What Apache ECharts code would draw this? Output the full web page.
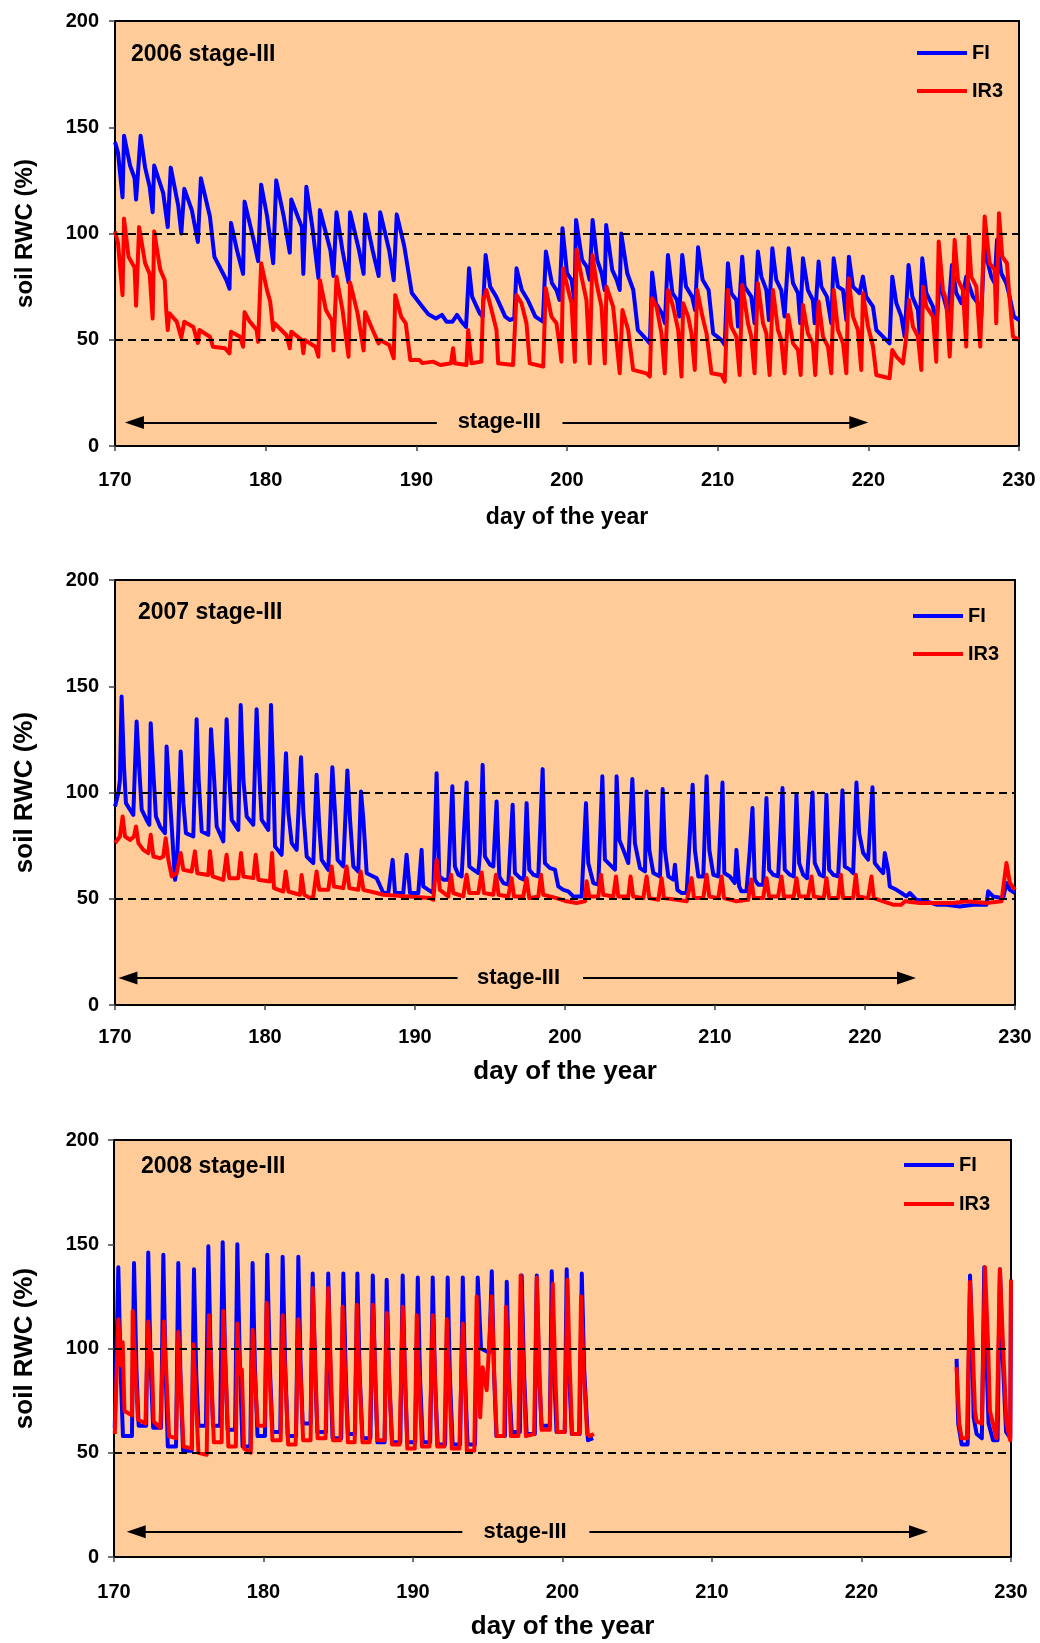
<!DOCTYPE html>
<html>
<head>
<meta charset="utf-8">
<script src="https://cdn.jsdelivr.net/npm/echarts@6/dist/echarts.min.js"></script>
<style>
  html, body { margin: 0; padding: 0; background: #fff; }
  #chart { width: 1040px; height: 1643px; }
</style>
</head>
<body>
<div id="chart"></div>
<script>
// Soil relative water content (%) by day of the year, FI vs IR3, stage-III, 2006-2008.

const years = ['2006', '2007', '2008'];
const xTicks = [170, 180, 190, 200, 210, 220, 230];
const yTicks = [0, 50, 100, 150, 200];
const refLevels = [50, 100];
// stage-III span per year: [left arrow tip, left line end, right line start, right arrow tip, label day]
const stageSpans = [
  [170.66, 191.36, 199.7, 220.0, 195.5],
  [170.23, 192.84, 201.2, 223.4, 196.9],
  [170.85, 193.3, 201.8, 224.45, 197.5]
];
const stageLevel = [11.1, 12.7, 12.1];

// ---- 2006 ----
const fi2006 = [
[170.0,143],[170.2,138],[170.5,117],[170.6,146],[171.0,132],[171.3,126],[171.4,116],[171.7,146],[172.0,131],[172.3,122],[172.5,110],[172.6,132],[173.2,119],[173.5,103],[173.7,131],[174.2,113],[174.4,100],[174.6,121],[175.1,111],[175.5,96],[175.7,126],[176.3,108],[176.6,89],[177.4,78],[177.6,74],[177.7,105],[178.1,92],[178.5,81],[178.6,115],[179.2,97],[179.5,87],[179.7,123],[180.1,108],[180.5,86],[180.7,125],[181.2,108],[181.6,91],[181.7,116],[182.4,103],[182.5,81],[182.7,122],[183.1,103],[183.5,79],[183.6,111],[184.3,92],[184.5,80],[184.7,110],[185.1,92],[185.5,77],[185.6,110],[186.2,92],[186.5,81],[186.6,109],[187.1,92],[187.5,80],[187.6,110],[188.2,92],[188.5,78],[188.7,109],[189.2,94],[189.7,72],[190.4,65.5],[190.8,62],[191.3,60],[191.7,61.7],[192.0,58.5],[192.4,58.5],[192.7,61.7],[193.0,58.5],[193.3,56],[193.5,83.6],[193.7,70.3],[194.2,62.5],[194.4,60.9],[194.6,89.9],[194.9,75],[195.3,70.3],[195.9,60.9],[196.2,59.3],[196.5,60],[196.65,83.6],[197.0,73.4],[197.4,68.7],[197.9,60.9],[198.4,58.5],[198.6,91.5],[199.0,76.6],[199.3,73.4],[199.5,68.7],[199.7,102.5],[200.0,81.3],[200.3,78.2],[200.5,68],[200.6,106.4],[201.0,87.6],[201.3,84.4],[201.5,78.2],[201.7,106.4],[202.0,87.6],[202.3,81.3],[202.5,73.4],[202.6,104],[203.0,82.9],[203.3,78.2],[203.5,73.4],[203.6,100],[204.0,81.3],[204.4,73.4],[204.7,54.6],[205.3,49.9],[205.5,48.3],[205.65,81.6],[205.9,67.2],[206.3,62.5],[206.5,57.8],[206.7,89.9],[207.0,71.9],[207.3,68.7],[207.45,60.9],[207.65,89.9],[207.9,75],[208.3,70.3],[208.5,64],[208.7,93.5],[209.0,78.2],[209.4,73.4],[209.7,53],[210.25,49.9],[210.47,47.6],[210.68,86],[210.9,71.9],[211.24,68.7],[211.35,56.2],[211.63,89.1],[211.79,75],[212.23,70.3],[212.45,57.8],[212.67,91.5],[212.9,79.7],[213.23,73.4],[213.4,59.3],[213.63,93.1],[213.89,78.2],[214.22,73.4],[214.44,60.9],[214.71,93.1],[215.0,76.6],[215.33,71.9],[215.48,57.8],[215.66,88.3],[215.99,73.4],[216.32,68.7],[216.44,57.8],[216.7,86.8],[216.88,75],[217.25,70.3],[217.54,57.8],[217.7,88.3],[217.98,75],[218.32,73.4],[218.54,59.3],[218.71,89.1],[218.98,75],[219.42,71.9],[219.64,79.7],[219.86,70.3],[220.31,65.6],[220.53,54.6],[220.97,51.5],[221.41,48.3],[221.59,79.7],[221.86,67.2],[222.19,60.9],[222.41,51.5],[222.67,85.2],[222.92,70.3],[223.29,64],[223.4,53],[223.58,88.3],[223.85,71.9],[224.29,65.6],[224.51,54.6],[224.73,78.2],[225.0,70],[225.3,62],[225.55,85.2],[225.84,71.9],[226.17,67.2],[226.5,79.7],[226.94,70.3],[227.28,67.2],[227.5,60.9],[227.72,100],[227.83,89.1],[228.16,79.7],[228.38,76.6],[228.54,97],[228.82,81.3],[229.16,76.6],[229.38,70.3],[229.66,60.9],[230.0,59.3]
];
const ir3_2006 = [
[170.0,101],[170.2,95.5],[170.5,71],[170.6,107],[170.9,89],[171.3,84],[171.4,66],[171.6,103],[172.0,86],[172.3,81],[172.5,60],[172.6,101],[173.0,83],[173.3,78],[173.4,64],[173.5,54.6],[173.6,62.5],[174.1,58.5],[174.4,51],[174.6,58.5],[175.2,56],[175.5,48.5],[175.6,54.6],[176.3,51.4],[176.5,46.7],[177.3,46],[177.6,43.6],[177.7,53.8],[178.3,51.4],[178.5,46.7],[178.6,63],[178.9,59],[179.4,54.6],[179.5,49],[179.7,86],[180.1,73],[180.3,68],[180.5,54.6],[180.6,57.7],[181.4,52],[181.6,46],[181.7,53.8],[182.4,49.9],[182.5,43.6],[182.6,49.9],[183.3,46.7],[183.5,42],[183.6,78],[184.0,64],[184.4,59],[184.5,45],[184.7,79.7],[185.1,64],[185.5,42],[185.6,77],[186.1,62.4],[186.5,45],[186.6,63],[187.1,54.6],[187.5,48.3],[187.6,49.9],[188.2,47.5],[188.5,41.3],[188.6,71],[189.0,60.8],[189.3,57.7],[189.6,40.5],[190.2,40.5],[190.4,39],[191.1,39.7],[191.6,38.1],[192.3,38.9],[192.44,46],[192.55,38.9],[193.33,38.1],[193.44,54.6],[193.55,55.4],[193.66,38.9],[194.32,39.7],[194.43,68.7],[194.65,73.4],[194.99,64],[195.32,54.6],[195.43,38.9],[196.42,38.1],[196.65,71.1],[196.98,67.2],[197.31,57.8],[197.53,38.9],[198.42,37.4],[198.59,74.2],[198.97,60.9],[199.3,57.8],[199.52,46.8],[199.63,39.7],[199.74,83.6],[200.08,73.4],[200.3,67.2],[200.52,39.7],[200.63,92.3],[200.96,79.7],[201.29,68.7],[201.51,38.9],[201.69,89.9],[201.96,76.6],[202.29,65.6],[202.51,38.9],[202.62,75],[203.06,65.6],[203.5,34.2],[203.68,64],[204.06,54.6],[204.39,35.8],[204.83,35],[205.27,34.2],[205.5,32.7],[205.65,69.5],[205.94,65.6],[206.27,53],[206.49,34.2],[206.71,73.4],[207.04,65.6],[207.38,54.6],[207.6,32.7],[207.71,67.2],[208.04,60.9],[208.26,53],[208.48,35.8],[208.64,73.4],[208.99,60.9],[209.26,53],[209.59,34.2],[210.25,33.4],[210.47,30.3],[210.68,73.4],[210.9,56.2],[211.24,51.5],[211.46,33.4],[211.63,75.8],[212.01,57.8],[212.23,51.5],[212.45,34.2],[212.67,76.6],[213.01,57.8],[213.23,53],[213.45,33.4],[213.67,73.4],[214.0,54.6],[214.22,49.9],[214.44,34.2],[214.67,61.7],[215.0,48.3],[215.33,45.2],[215.51,33.4],[215.66,66.4],[215.99,53],[216.32,48.3],[216.48,33.4],[216.7,68],[216.99,51.5],[217.32,46.8],[217.54,34.2],[217.7,73.4],[217.98,54.6],[218.32,48.3],[218.54,34.2],[218.69,78.9],[218.98,60.9],[219.31,54.6],[219.53,35.8],[219.64,71.9],[219.98,56.2],[220.31,46.8],[220.53,33.4],[221.41,31.9],[221.59,45.2],[221.86,42.1],[222.3,38.9],[222.52,51.5],[222.7,68.7],[222.96,56.2],[223.29,51.5],[223.52,35.8],[223.63,75],[223.85,65.6],[224.29,60.9],[224.51,39.7],[224.67,96.2],[224.95,73.4],[225.17,68.7],[225.4,42.1],[225.73,97],[225.95,78.2],[226.28,73.4],[226.5,46.8],[226.66,98.5],[226.83,79.7],[227.17,75],[227.43,46.8],[227.72,108],[228.05,86],[228.38,82.9],[228.49,57.8],[228.67,109.5],[228.89,89.1],[229.2,86],[229.33,73.4],[229.6,51.5],[230.0,49.9]
];

// ---- 2007 ----
const fi2007 = [
[170.0,93.4],[170.22,99.7],[170.33,106],[170.44,145.2],[170.6,112.2],[170.73,95],[171.0,91.9],[171.22,89.5],[171.44,133.4],[171.62,110.7],[171.78,91.9],[172.11,87.1],[172.29,84.8],[172.38,132.6],[172.56,109],[172.73,88.7],[173.0,84],[173.33,80.9],[173.44,121.6],[173.62,101.3],[173.78,84],[174.0,58.9],[174.11,63.6],[174.22,82.4],[174.38,119.3],[174.56,95],[174.73,80.9],[175.22,79.3],[175.44,134.5],[175.58,106],[175.78,81.7],[176.22,80.1],[176.4,129.8],[176.6,107.5],[176.78,84],[177.22,77],[177.44,134.5],[177.62,107.5],[177.78,87.1],[178.22,82.4],[178.38,141.2],[178.56,106],[178.78,88.7],[179.22,84.8],[179.44,139.2],[179.62,109],[179.78,87.1],[180.22,82.4],[180.4,141.2],[180.56,106],[180.67,74.6],[181.11,70.7],[181.4,118.5],[181.56,90.3],[181.78,76.2],[182.11,73],[182.4,116.6],[182.56,90.3],[182.78,69.9],[183.22,66.8],[183.44,108.3],[183.62,84],[183.78,68.3],[184.22,63.6],[184.49,111.9],[184.67,90.3],[184.84,68.3],[185.22,65.2],[185.49,110.4],[185.67,87.1],[185.89,65.2],[186.22,62.8],[186.4,100.5],[186.56,87.1],[186.78,62],[187.22,60.5],[187.44,59.7],[187.89,52.7],[188.22,52.7],[188.51,68.3],[188.67,52.7],[189.22,52.7],[189.44,70.7],[189.67,52.7],[190.22,52.7],[190.44,73],[190.55,55.8],[190.89,54.2],[191.22,52.7],[191.44,109.1],[191.62,60.5],[191.89,59],[192.22,59],[192.49,102.9],[192.66,65.2],[192.89,61.3],[193.11,60.5],[193.44,104.7],[193.62,65.2],[193.89,63.7],[194.22,62.1],[194.33,71.5],[194.51,113],[194.66,69.9],[195.0,66],[195.22,65.2],[195.44,95.8],[195.62,60.5],[195.89,57.4],[196.22,56.6],[196.51,94.2],[196.66,62.1],[197.0,59.8],[197.26,59],[197.44,95],[197.62,63.7],[197.89,61.3],[198.22,60.5],[198.51,111],[198.66,66.8],[199.0,64.4],[199.33,63.7],[199.55,55.8],[199.89,54.2],[200.22,53.5],[200.55,51.1],[201.11,51.1],[201.4,95],[201.55,66.8],[201.89,57.4],[202.22,56.6],[202.49,107.6],[202.66,68.4],[203.11,65.2],[203.33,63.7],[203.44,107.6],[203.62,77.8],[203.89,73],[204.22,66.8],[204.49,106.3],[204.66,76.2],[205.0,64.4],[205.33,62.9],[205.44,100.5],[205.62,73],[205.89,62.1],[206.33,60.5],[206.51,101.6],[206.66,73],[206.89,60.5],[207.22,59],[207.33,66],[207.49,54.2],[207.77,52.7],[208.11,52.7],[208.51,103.6],[208.66,73],[208.89,60.5],[209.22,60.5],[209.44,107.6],[209.62,73],[209.89,61.3],[210.22,60.5],[210.5,104.7],[210.62,62.1],[210.99,60.5],[211.32,57.4],[211.43,73],[211.61,55.8],[211.76,53.5],[212.1,53.5],[212.32,73],[212.5,92.7],[212.65,59],[212.88,56.6],[213.21,56.6],[213.43,97.4],[213.61,63.7],[213.88,61.3],[214.21,60.5],[214.5,102.1],[214.65,63.7],[214.99,61.3],[215.25,60.5],[215.43,98.9],[215.61,66.8],[215.88,61.3],[216.14,59.7],[216.5,100],[216.65,66.8],[216.99,61.3],[217.25,60.5],[217.43,98.9],[217.61,63.7],[217.88,61.3],[218.21,60.5],[218.5,101],[218.65,65.2],[218.99,63.7],[219.21,62.1],[219.43,104.7],[219.61,80.9],[219.88,71.5],[220.21,68.4],[220.5,102.5],[220.65,66.8],[220.99,63.7],[221.21,62.1],[221.32,71.5],[221.54,63.7],[221.65,55.8],[222.1,54.2],[222.43,52.7],[222.76,51.1],[222.99,52.7],[223.43,49.5],[224.1,48.8],[224.76,47.2],[225.43,47.2],[226.32,46.4],[227.21,47.2],[228.1,47.2],[228.21,53.5],[228.54,51.1],[229.21,50.3],[229.43,57.4],[229.66,54.2],[230.0,52.7]
];
const ir3_2007 = [
[170.0,76.2],[170.33,79.3],[170.51,88.7],[170.67,79.3],[171.0,77.7],[171.27,79.3],[171.4,84],[171.56,76.2],[171.89,73],[172.22,71.5],[172.38,80.1],[172.56,69.9],[173.0,69.1],[173.22,69.9],[173.38,78.5],[173.56,68.3],[173.78,60.5],[174.11,62],[174.38,71.5],[174.56,63.6],[175.11,62.8],[175.33,72.3],[175.49,62],[176.22,61.2],[176.33,72.3],[176.51,60.5],[177.22,58.9],[177.44,70.7],[177.62,59.7],[178.22,59.7],[178.4,71.5],[178.56,60.5],[179.22,59.7],[179.38,70.7],[179.56,58.9],[180.33,58.1],[180.47,71.5],[180.6,55],[181.22,53.4],[181.38,62.8],[181.56,53.4],[182.33,51.9],[182.44,61.2],[182.62,51.9],[183.0,50.3],[183.22,51.1],[183.44,62.8],[183.62,54.2],[184.22,54.2],[184.44,65.2],[184.6,55.8],[185.22,55],[185.44,65.2],[185.62,55],[186.22,54.2],[186.38,62.8],[186.56,54.2],[187.44,52.7],[187.89,51.9],[191.0,50.3],[191.22,49.5],[191.44,68.4],[191.66,54.2],[192.22,51.1],[192.4,61.3],[192.55,52.7],[193.22,51.1],[193.44,61.3],[193.62,52.7],[194.22,52.7],[194.44,62.4],[194.6,52.7],[195.22,51.9],[195.4,61.3],[195.57,51.9],[196.22,51.1],[196.44,59.7],[196.6,51.1],[197.22,51.1],[197.44,59.7],[197.62,50.3],[198.22,51.1],[198.4,61.3],[198.55,51.9],[199.44,50.3],[200.11,48.8],[200.77,48],[201.33,48.8],[201.44,58.2],[201.62,51.1],[202.22,51.1],[202.4,61.3],[202.55,51.9],[203.22,51.1],[203.4,60.5],[203.55,51.1],[204.22,51.1],[204.37,60.5],[204.55,51.1],[205.22,50.3],[205.44,60.5],[205.62,50.3],[206.22,49.5],[206.44,59.7],[206.6,50.3],[207.44,49.5],[208.11,48.8],[208.44,59.7],[208.6,50.3],[209.22,50.3],[209.44,61.3],[209.62,51.1],[210.22,50.3],[210.44,60.5],[210.6,50.3],[211.43,48.8],[212.21,49.5],[212.43,59],[212.59,50.3],[213.21,50.3],[213.43,59.7],[213.61,51.1],[214.21,51.1],[214.43,60.5],[214.59,51.1],[215.25,51.1],[215.43,59.7],[215.61,51.1],[216.21,51.1],[216.43,60.5],[216.59,51.1],[217.25,50.3],[217.43,59.7],[217.61,50.3],[218.21,50.3],[218.39,61.3],[218.54,50.3],[219.21,50.3],[219.39,61.3],[219.54,51.1],[220.21,50.3],[220.43,60.5],[220.59,50.3],[221.21,48.8],[221.88,47.2],[222.43,47.2],[222.65,48.8],[223.65,48],[224.76,48],[225.88,48],[226.76,48.8],[228.1,48],[229.1,48.8],[229.43,66.8],[229.66,57.4],[230.0,54.2]
];

// ---- 2008 (two measured periods) ----
const fi2008a = [
[170.05,62],[170.29,139],[170.45,88],[170.6,58],[171.2,58],[171.34,141],[171.5,90],[171.65,63],[172.15,63],[172.29,146],[172.45,92],[172.62,62],[173.15,62],[173.3,145],[173.45,90],[173.6,53],[174.15,53],[174.3,141],[174.45,85],[174.62,51],[175.2,51],[175.35,138],[175.5,88],[175.65,63],[176.15,63],[176.31,149],[176.47,95],[176.62,63],[177.1,63],[177.27,151],[177.43,96],[177.6,61],[178.1,61],[178.25,150],[178.42,92],[178.6,53],[179.12,53],[179.27,141],[179.43,90],[179.6,58],[180.1,58],[180.25,145],[180.42,92],[180.6,60],[181.12,60],[181.28,144],[181.45,92],[181.62,58],[182.18,58],[182.33,144],[182.48,92],[182.62,64],[183.15,64],[183.29,136],[183.45,90],[183.6,60],[184.18,60],[184.33,136],[184.48,88],[184.62,57],[185.2,57],[185.34,136],[185.5,88],[185.65,59],[186.12,59],[186.28,136],[186.43,88],[186.62,57],[187.15,57],[187.31,135],[187.46,88],[187.62,55],[188.1,55],[188.24,133],[188.4,86],[188.6,55],[189.15,55],[189.31,135],[189.46,86],[189.62,55],[190.15,55],[190.32,134],[190.47,86],[190.65,55],[191.15,55],[191.32,134],[191.47,86],[191.65,54],[192.15,54],[192.32,134],[192.47,86],[192.65,54],[193.15,54],[193.33,134],[193.48,86],[193.65,54],[194.15,54],[194.33,134],[194.55,100],[195.1,98],[195.27,137],[195.42,88],[195.58,58],[196.15,58],[196.27,132],[196.42,86],[196.6,60],[197.15,60],[197.27,135],[197.43,88],[197.6,59],[198.15,59],[198.28,135],[198.43,88],[198.6,63],[199.15,63],[199.28,137],[199.43,90],[199.6,60],[200.15,60],[200.28,138],[200.43,90],[200.62,59],[201.15,59],[201.29,136],[201.45,90],[201.7,56],[202.05,57]
];
const fi2008b = [
[226.36,95],[226.47,64],[226.7,54],[227.1,54],[227.26,135],[227.42,98],[227.5,67],[227.7,59],[228.05,57],[228.21,139],[228.38,90],[228.5,64],[228.8,56],[229.1,56],[229.26,138],[229.45,95],[229.67,60],[229.95,57],[230.0,133]
];
const ir3_2008a = [
[170.05,59],[170.29,114],[170.45,92],[170.58,103],[170.7,70],[171.2,68],[171.25,118],[171.4,95],[171.6,66],[172.1,64],[172.29,113],[172.42,96],[172.52,98],[172.65,65],[173.1,62],[173.34,113],[173.5,88],[173.68,58],[174.15,57],[174.3,108],[174.45,85],[174.65,53],[175.2,52],[175.3,102],[175.45,80],[175.65,50],[176.2,49],[176.35,116],[176.5,88],[176.68,55],[177.2,55],[177.31,118],[177.47,90],[177.65,53],[178.15,53],[178.25,112],[178.42,88],[178.55,90],[178.7,52],[179.15,50],[179.27,109],[179.43,85],[179.62,63],[180.08,63],[180.21,122],[180.38,92],[180.6,56],[181.15,56],[181.28,116],[181.45,88],[181.65,54],[182.15,54],[182.33,114],[182.48,88],[182.65,56],[183.15,56],[183.29,129],[183.45,95],[183.62,57],[184.15,57],[184.33,129],[184.48,95],[184.65,56],[185.15,56],[185.29,120],[185.45,90],[185.65,55],[186.1,55],[186.24,121],[186.4,90],[186.62,55],[187.1,55],[187.31,121],[187.47,90],[187.62,56],[188.1,56],[188.24,117],[188.4,88],[188.6,54],[189.1,54],[189.31,120],[189.47,88],[189.62,52],[190.12,52],[190.25,116],[190.4,86],[190.6,53],[191.1,53],[191.32,116],[191.47,86],[191.62,53],[192.1,53],[192.26,114],[192.42,85],[192.6,52],[193.1,52],[193.33,112],[193.48,84],[193.6,51],[194.1,51],[194.26,125],[194.49,67],[194.66,91],[194.93,80],[195.27,125],[195.42,90],[195.6,58],[196.1,58],[196.22,120],[196.38,90],[196.55,58],[197.05,58],[197.2,135],[197.36,95],[197.55,58],[198.1,59],[198.28,134],[198.43,95],[198.6,61],[199.15,61],[199.35,131],[199.5,92],[199.65,60],[200.15,60],[200.33,133],[200.48,92],[200.65,59],[201.1,59],[201.24,125],[201.42,88],[201.65,59],[201.8,58],[202.1,59]
];
const ir3_2008b = [
[226.36,91],[226.54,64],[226.7,57],[227.05,57],[227.26,132],[227.42,105],[227.59,70],[227.7,65],[228.05,64],[228.26,139],[228.48,99],[228.59,70],[229.03,57],[229.26,138],[229.48,99],[229.7,64],[229.95,56],[230.0,133]
];

const GAP = [[214, '-']];
const fiSeries = [fi2006, fi2007, fi2008a.concat(GAP, fi2008b)];
const ir3Series = [ir3_2006, ir3_2007, ir3_2008a.concat(GAP, ir3_2008b)];

// ---- layout ----
const FONT = '"Liberation Sans", Arial, Helvetica, sans-serif';
const BLUE = '#0000FF', RED = '#FF0000', PLOT_BG = '#FFCC99';
const ARROW = [13, 19];   // arrowhead width, length (px)
const LINE_W = 4;
const panels = [
  { grid: { left: 115, top: 21, width: 904, height: 425 }, xLabMargin: 24, xNameGap: 60, xNameSize: 23,
    yLabMargin: 16, yNameGap: 78, yNameSize: 24, legend: { left: 917, top: 43, gap: 18 }, title: [131, 55] },
  { grid: { left: 115, top: 580, width: 900, height: 425 }, xLabMargin: 22, xNameGap: 54, xNameSize: 26,
    yLabMargin: 16, yNameGap: 77, yNameSize: 26, legend: { left: 913, top: 606, gap: 18 }, title: [138, 613] },
  { grid: { left: 114, top: 1140, width: 897, height: 417 }, xLabMargin: 25, xNameGap: 57, xNameSize: 26,
    yLabMargin: 15, yNameGap: 76, yNameSize: 26, legend: { left: 904, top: 1155, gap: 19 }, title: [141, 1167] }
];

const option = {
  animation: false,
  backgroundColor: '#fff',
  textStyle: { fontFamily: FONT },
  grid: [], xAxis: [], yAxis: [], series: [], legend: [], graphic: []
};

const boldText = (size) => ({ color: '#000', fontFamily: FONT, fontWeight: 'bold', fontSize: size });

panels.forEach((p, i) => {
  option.grid.push(Object.assign({ show: true, backgroundColor: PLOT_BG, borderColor: '#000', borderWidth: 2 }, p.grid));

  const xMin = xTicks[0], xMax = xTicks[xTicks.length - 1];
  option.xAxis.push({
    type: 'value', gridIndex: i, min: xMin, max: xMax, interval: xTicks[1] - xTicks[0],
    axisLine: { show: true, onZero: false, lineStyle: { color: '#000', width: 2 } },
    axisTick: { show: true, length: 5, lineStyle: { color: '#444', width: 1.5 } },
    axisLabel: Object.assign({ margin: p.xLabMargin }, boldText(20)),
    splitLine: { show: false },
    name: 'day of the year', nameLocation: 'middle', nameGap: p.xNameGap,
    nameTextStyle: boldText(p.xNameSize)
  });

  option.yAxis.push({
    type: 'value', gridIndex: i, min: yTicks[0], max: yTicks[yTicks.length - 1], interval: yTicks[1] - yTicks[0],
    axisLine: { show: true, onZero: false, lineStyle: { color: '#000', width: 2 } },
    axisTick: { show: true, length: 6, lineStyle: { color: '#444', width: 1.5 } },
    axisLabel: Object.assign({ margin: p.yLabMargin }, boldText(20)),
    splitLine: { show: false },
    name: 'soil RWC (%)', nameLocation: 'middle', nameGap: p.yNameGap,
    nameTextStyle: boldText(p.yNameSize)
  });

  // arrowheads are centred on their end point, so step in by half their length
  const s = stageSpans[i], lv = stageLevel[i];
  const half = (ARROW[1] / 2) * (xMax - xMin) / p.grid.width;
  const arrowStyle = { color: '#000', width: 2, type: 'solid' };
  option.series.push({
    type: 'line', name: 'ref' + i, xAxisIndex: i, yAxisIndex: i, data: [], silent: true,
    markLine: {
      silent: true, symbol: 'none', animation: false,
      label: { show: false },
      lineStyle: { color: '#000', width: 1.8, type: [8, 5] },
      data: refLevels.map(v => ({ yAxis: v })).concat([
        [ { coord: [s[0] + half, lv], symbol: 'triangle', symbolSize: ARROW, lineStyle: arrowStyle },
          { coord: [s[1], lv], symbol: 'none' } ],
        [ { coord: [s[2], lv], symbol: 'none', lineStyle: arrowStyle },
          { coord: [s[3] - half, lv], symbol: 'triangle', symbolSize: ARROW } ]
      ])
    },
    markPoint: {
      silent: true, animation: false,
      symbol: 'circle', symbolSize: 1, itemStyle: { color: 'rgba(0,0,0,0)' },
      label: Object.assign({ show: true, position: 'inside', formatter: 'stage-III' }, boldText(22)),
      data: [{ coord: [s[4], lv] }]
    }
  });

  option.series.push({
    type: 'line', name: 'FI', xAxisIndex: i, yAxisIndex: i, data: fiSeries[i],
    showSymbol: false, symbol: 'none', color: BLUE,
    lineStyle: { color: BLUE, width: LINE_W, join: 'round' }, z: 3
  });
  option.series.push({
    type: 'line', name: 'IR3', xAxisIndex: i, yAxisIndex: i, data: ir3Series[i],
    showSymbol: false, symbol: 'none', color: RED,
    lineStyle: { color: RED, width: LINE_W, join: 'round' }, z: 4
  });

  option.legend.push({
    data: ['FI', 'IR3'], orient: 'vertical', left: p.legend.left, top: p.legend.top,
    itemGap: p.legend.gap, itemWidth: 50, itemHeight: 4, icon: 'rect', padding: 0,
    selectedMode: false,
    textStyle: Object.assign({ lineHeight: 20 }, boldText(20))
  });

  option.graphic.push({
    type: 'text', x: p.title[0], y: p.title[1], silent: true,
    style: { text: years[i] + ' stage-III', font: 'bold 23px ' + FONT, fill: '#000',
             verticalAlign: 'middle', textVerticalAlign: 'middle' }
  });
});

const chart = echarts.init(document.getElementById('chart'), null, { renderer: 'canvas' });
chart.setOption(option);
</script>
</body>
</html>
